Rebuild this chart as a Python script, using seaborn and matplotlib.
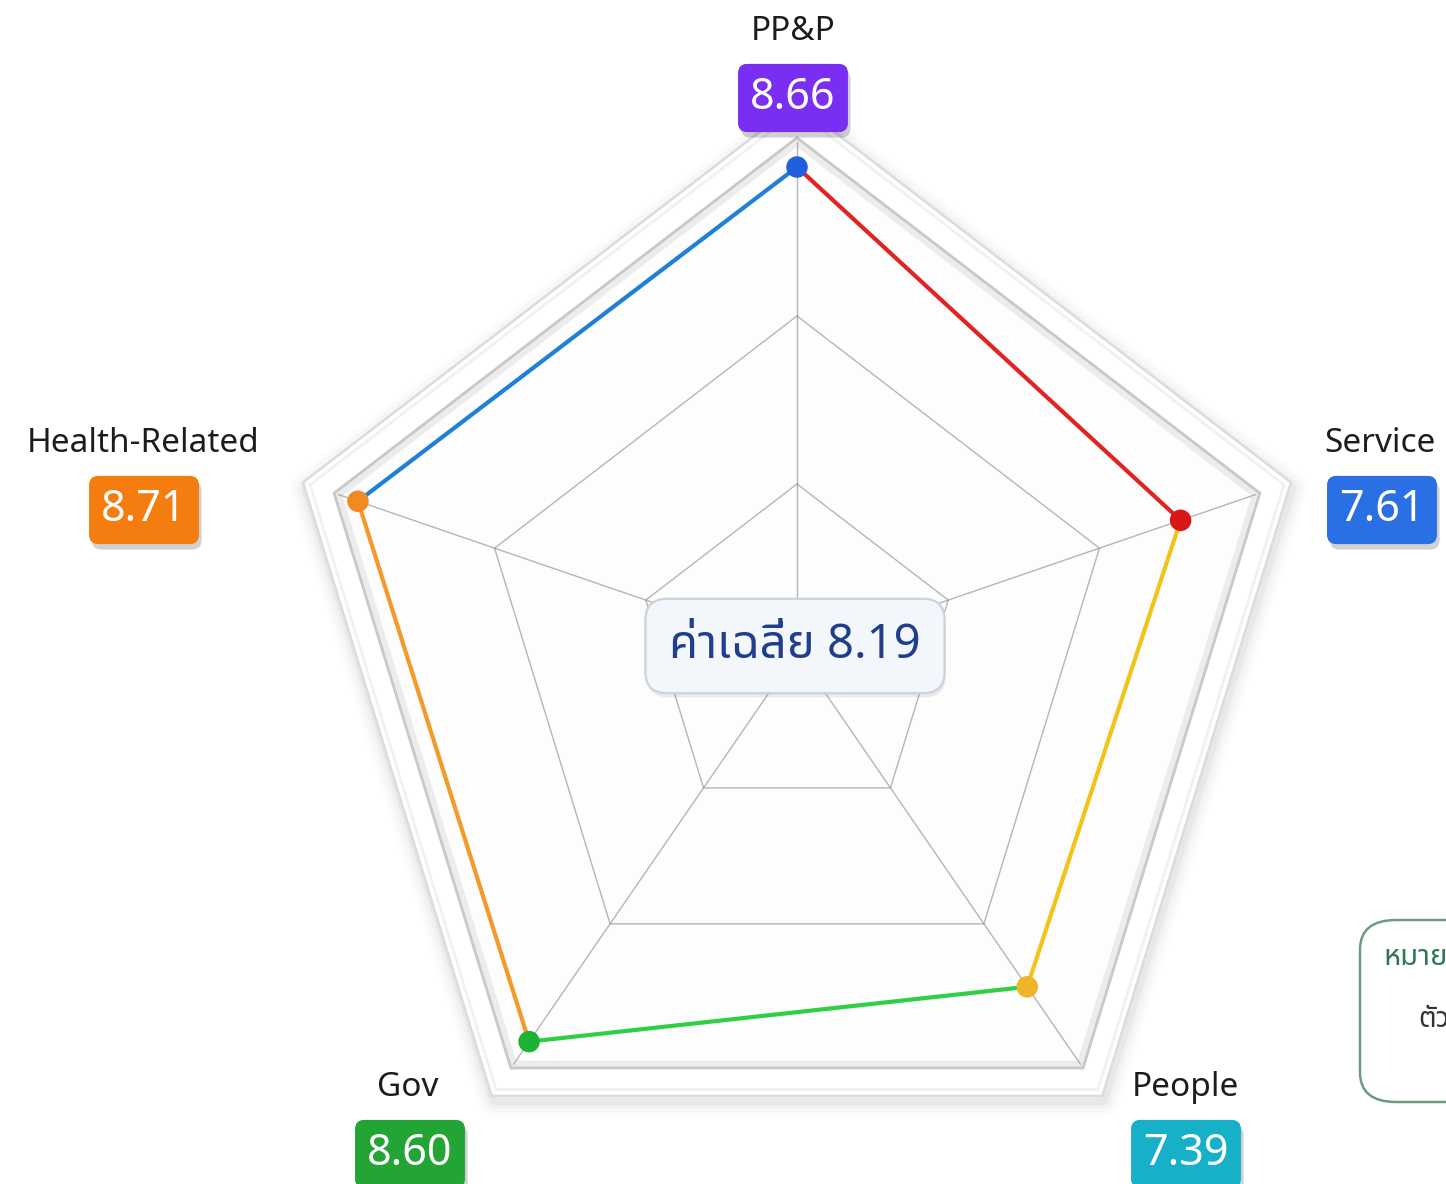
import numpy as np
import pandas as pd
import matplotlib
matplotlib.use("Agg")
import matplotlib.pyplot as plt
import seaborn as sns
from matplotlib import font_manager as fm
from matplotlib import ft2font
from matplotlib.patches import Polygon, FancyBboxPatch
from matplotlib import patheffects as pe

# ---------------- data ----------------
categories = ["PP&P", "Service", "People", "Gov", "Health-Related"]
values = [8.66, 7.61, 7.39, 8.60, 8.71]
average_label = "ค่าเฉลี่ย 8.19"
note_title = "หมายเหตุ"
note_text = "ตัวชี้วัด"

# ---------------- styles ----------------
angles_deg = [90, 18, -54, -126, 162]
segment_colors = ["#e02424", "#f2c31b", "#2fcf45", "#f29a2a", "#1f80d8"]
marker_colors = ["#1f5fe0", "#d81818", "#f0b428", "#1db234", "#f08a22"]
box_colors = ["#7a2ef2", "#2a6fe3", "#17b0c9", "#22a535", "#f57d10"]

sns.set_theme(style="white")

def find_thai_family():
    names = []
    for f in fm.fontManager.ttflist:
        try:
            cm = ft2font.FT2Font(f.fname).get_charmap()
            if 0x0E04 in cm and 0x0E48 in cm:
                names.append(f.name)
        except Exception:
            pass
    for pref in ["Noto Sans Thai", "Noto Sans", "Noto Sans Thai Looped", "Tlwg Typo"]:
        if pref in names:
            return pref
    return names[0] if names else None

thai = find_thai_family()
fam = ["Noto Sans", "DejaVu Sans"]
thai_fam = ([thai] if thai else []) + fam
plt.rcParams["font.family"] = fam

W, H = 1446, 1184
fig = plt.figure(figsize=(W / 100, H / 100), dpi=100)
ax = fig.add_axes([0, 0, 1, 1])
fig.patch.set_facecolor("white")
ax.set_facecolor("white")

cx_px, cy_px = 797, 652
kx, ky = 53.0, 56.0
ax.set_xlim(-cx_px / kx, (W - cx_px) / kx)
ax.set_ylim(-(H - cy_px) / ky, cy_px / ky)
ax.axis("off")

ang = np.deg2rad(angles_deg)
cosa, sina = np.cos(ang), np.sin(ang)

def ring(r):
    return np.column_stack([r * cosa, r * sina])

# frame: soft shadow + white bevel band
for lw, a in [(22, 0.012), (16, 0.018), (10, 0.025), (5, 0.035)]:
    ax.add_patch(Polygon(ring(9.8) + np.array([0.03, -0.1]), closed=True, fc="none",
                         ec="#000000", lw=lw, alpha=a, joinstyle="round", zorder=1))
ax.add_patch(Polygon(ring(9.8), closed=True, fc="white", ec="#dcdcdc", lw=1.8, zorder=2))
ax.add_patch(Polygon(ring(9.66), closed=True, fc="none", ec="#f1f1f1", lw=2, zorder=2))
ax.add_patch(Polygon(ring(9.18), closed=True, fc="#fdfdfd", ec="#c9c9c9", lw=2.2, zorder=2))
ax.add_patch(Polygon(ring(9.08), closed=True, fc="none", ec="#ececec", lw=4, zorder=2))

# grid rings and spokes
for r in [3, 6]:
    pts = ring(r)
    pts = np.vstack([pts, pts[:1]])
    ax.plot(pts[:, 0], pts[:, 1], color="#8f8f8f", lw=1.0, alpha=0.65, zorder=3)
for i in range(5):
    ax.plot([0, 9.1 * cosa[i]], [0, 9.1 * sina[i]], color="#8f8f8f", lw=1.0, alpha=0.65, zorder=3)

# data points
vals = np.array(values)
df = pd.DataFrame({"category": categories,
                   "x": vals * cosa,
                   "y": vals * sina})

for i in range(5):
    j = (i + 1) % 5
    seg = df.iloc[[i, j]]
    sns.lineplot(data=seg, x="x", y="y", sort=False, color=segment_colors[i],
                 lw=3, ax=ax, zorder=5, legend=False)

sns.scatterplot(data=df, x="x", y="y", hue="category", palette=marker_colors,
                s=240, edgecolor="none", ax=ax, zorder=6, legend=False)
ax.set_xlabel("")
ax.set_ylabel("")

# labels
def fx(px):
    return px / W

def fy(py):
    return 1 - py / H

shadow = [pe.withSimplePatchShadow(offset=(2, -4), shadow_rgbFace="black", alpha=0.18)]

label_pos = [(793, 32, 793, 98), (1380, 443, 1382, 510), (1185, 1088, 1186, 1154),
             (408, 1088, 410, 1154), (143, 443, 144, 510)]
for i, (lx, ly, bx, by) in enumerate(label_pos):
    ax.text(fx(lx), fy(ly), categories[i], transform=ax.transAxes, ha="center", va="center",
            fontsize=24, fontweight="semibold", color="#1c1c1c", zorder=10)
    t = ax.text(fx(bx), fy(by), f"{values[i]:.2f}", transform=ax.transAxes, ha="center",
                va="center", fontsize=31, fontweight="medium", color="white", zorder=10,
                bbox=dict(boxstyle="round,pad=0.28,rounding_size=0.22", fc=box_colors[i], ec="none"))
    t.get_bbox_patch().set_path_effects(shadow + [pe.Normal()])

# center average label
t = ax.text(fx(795), fy(646), average_label, transform=ax.transAxes, ha="center", va="center",
            fontsize=34, fontweight="semibold", color="#1f3f8c", family=thai_fam, zorder=12,
            bbox=dict(boxstyle="round,pad=0.5,rounding_size=0.45", fc="#f3f6fa", ec="#cbd3df", lw=1.5))
t.get_bbox_patch().set_path_effects([pe.withSimplePatchShadow(offset=(1, -3), alpha=0.1), pe.Normal()])

# note box at right (partially cut off)
note = FancyBboxPatch((fx(1360), fy(1102)), 0.2, (1102 - 920) / H,
                      boxstyle="round,pad=0,rounding_size=0.025", transform=ax.transAxes,
                      fc="white", ec="#6f9c80", lw=1.8, zorder=8)
ax.add_patch(note)
ax.text(fx(1383), fy(958), note_title, transform=ax.transAxes, ha="left", va="center",
        fontsize=21, fontweight="bold", color="#2d7a55", family=thai_fam, zorder=9)
ax.text(fx(1418), fy(1020), note_text, transform=ax.transAxes, ha="left", va="center",
        fontsize=20, color="#333333", family=thai_fam, zorder=9)

fig.savefig("out.png", dpi=100, facecolor="white")
